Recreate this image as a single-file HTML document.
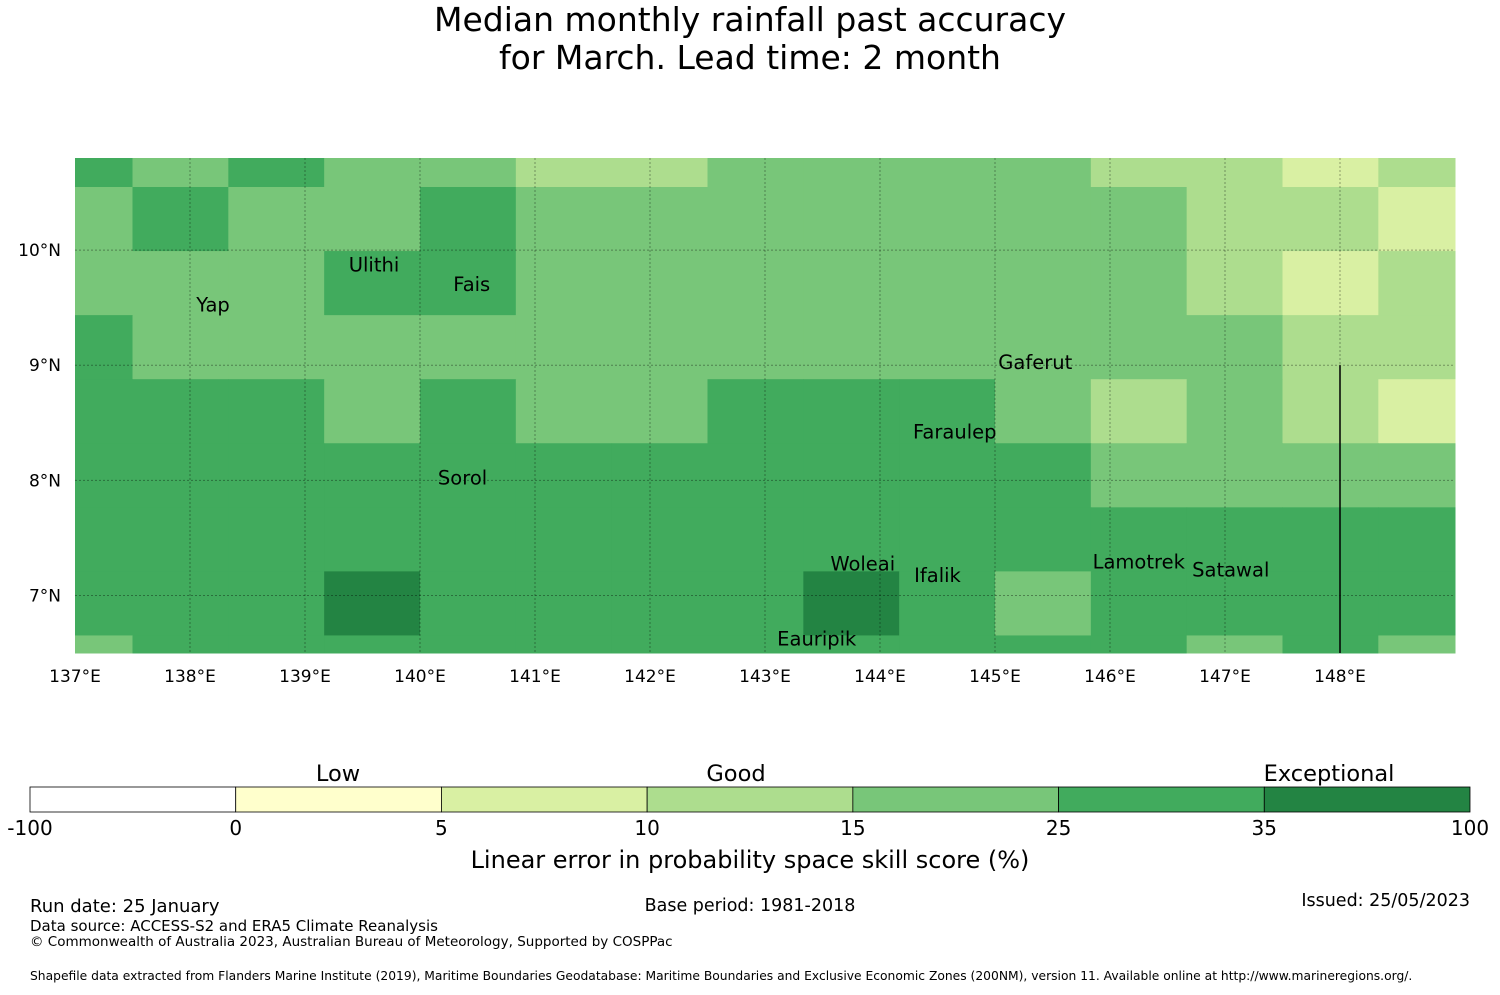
<!DOCTYPE html>
<html><head><meta charset="utf-8"><style>
body{margin:0;background:#fff;font-family:"Liberation Sans","DejaVu Sans",sans-serif}
svg text{font-family:"DejaVu Sans","Liberation Sans",sans-serif}
</style></head><body>
<svg id="chart" width="1500" height="990" xmlns="http://www.w3.org/2000/svg">
<text x="750" y="31" text-anchor="middle" font-size="33">Median monthly rainfall past accuracy</text>
<text x="750" y="69" text-anchor="middle" font-size="33">for March. Lead time: 2 month</text>
<g id="map"></g>
<g id="cbar"></g>
<text x="30" y="912" font-size="18">Run date: 25 January</text>
<text x="30" y="931" font-size="15">Data source: ACCESS-S2 and ERA5 Climate Reanalysis</text>
<text x="30" y="946" font-size="13.5">© Commonwealth of Australia 2023, Australian Bureau of Meteorology, Supported by COSPPac</text>
<text x="750" y="911" text-anchor="middle" font-size="17.5">Base period: 1981-2018</text>
<text x="1470" y="906" text-anchor="end" font-size="17.5">Issued: 25/05/2023</text>
<text x="30" y="980" font-size="12.3">Shapefile data extracted from Flanders Marine Institute (2019), Maritime Boundaries Geodatabase: Maritime Boundaries and Exclusive Economic Zones (200NM), version 11. Available online at http://www.marineregions.org/.</text>
</svg>
<script>
const lonTicks=[137,138,139,140,141,142,143,144,145,146,147,148];
const latTicks=[10,9,8,7];
const colors=["#ffffff","#ffffcc","#d9f0a3","#addd8e","#78c679","#41ab5d","#238443"];
const cbarLabels=["-100","0","5","10","15","25","35","100"];
const catNames=["Low","Good","Exceptional"];
const gridRow0=[5,4,5,4,4,3,3,4,4,4,4,3,3,2,3];
const gridRow1=[4,5,4,4,5,4,4,4,4,4,4,4,3,3,2];
const gridRow2=[4,4,4,5,5,4,4,4,4,4,4,4,3,2,3];
const gridRow3=[5,4,4,4,4,4,4,4,4,4,4,4,4,3,3];
const gridRow4=[5,5,5,4,5,4,4,5,5,5,4,3,4,3,2];
const gridRow5=[5,5,5,5,5,5,5,5,5,5,5,4,4,4,4];
const gridRow6=[5,5,5,5,5,5,5,5,5,5,5,5,5,5,5];
const gridRow7=[5,5,5,6,5,5,5,5,6,5,4,5,5,5,5];
const gridRow8=[4,5,5,5,5,5,5,5,5,5,5,5,4,5,4];
const islands=[["Yap",138.2,9.5],["Ulithi",139.6,9.85],["Fais",140.45,9.68],["Sorol",140.37,8.0],["Gaferut",145.35,9.0],["Faraulep",144.65,8.4],["Woleai",143.85,7.25],["Ifalik",144.5,7.15],["Lamotrek",146.25,7.27],["Satawal",147.05,7.2],["Eauripik",143.45,6.6]];
const grid=[gridRow0,gridRow1,gridRow2,gridRow3,gridRow4,gridRow5,gridRow6,gridRow7,gridRow8];
const NS="http://www.w3.org/2000/svg";
const X0=75,X1=1455,Y0=158,Y1=653,LON0=137,LON1=149,LAT0=10.8,LAT1=6.5;
const xs=l=>X0+(l-LON0)/(LON1-LON0)*(X1-X0);
const ys=l=>Y0+(LAT0-l)/(LAT0-LAT1)*(Y1-Y0);
function mk(t,a,p){const e=document.createElementNS(NS,t);for(const k in a)e.setAttribute(k,a[k]);p.appendChild(e);return e;}
const map=document.getElementById('map');
const lonStep=5/6,latStep=0.5565;
for(let r=0;r<grid.length;r++){
  const la=r===0?LAT0:10.548-(r-1)*latStep, lb=Math.max(LAT1,10.548-r*latStep);
  for(let c=0;c<grid[r].length;c++){
    const lo=c===0?LON0:137.5+(c-1)*lonStep, hi=Math.min(LON1,137.5+c*lonStep);
    const e=mk('rect',{x:xs(lo),y:ys(la),width:xs(hi)-xs(lo)+0.5,height:ys(lb)-ys(la)+0.5,fill:colors[grid[r][c]]},map);
    
    
  }
}
lonTicks.forEach(l=>{
  if(l>LON0){const e=mk('line',{x1:xs(l),x2:xs(l),y1:Y0,y2:Y1,stroke:'#000','stroke-opacity':0.35,'stroke-width':1,'stroke-dasharray':'2,2'},map);
  
  }
  const t=mk('text',{x:xs(l),y:682,'text-anchor':'middle','font-size':17},map);t.textContent=l+'°E';
  
  
});
latTicks.forEach(l=>{
  const e=mk('line',{x1:X0,x2:X1,y1:ys(l),y2:ys(l),stroke:'#000','stroke-opacity':0.35,'stroke-width':1,'stroke-dasharray':'2,2'},map);
  
  
  const t=mk('text',{x:61,y:ys(l)+6,'text-anchor':'end','font-size':17},map);t.textContent=l+'°N';
  
  
});
const b=mk('line',{x1:xs(148),x2:xs(148),y1:ys(9),y2:Y1,stroke:'#000','stroke-width':1.5},map);


islands.forEach(d=>{
  const t=mk('text',{x:xs(d[1]),y:ys(d[2])+4,'text-anchor':'middle','font-size':19.5},map);t.textContent=d[0];
  
  
});
const cb=document.getElementById('cbar');
const CX0=30,CX1=1470,CY=787,CH=25,n=cbarLabels.length-1,w=(CX1-CX0)/n;
for(let i=0;i<n;i++){
  const e=mk('rect',{x:CX0+i*w,y:CY,width:w,height:CH,fill:colors[i],stroke:'#000','stroke-width':0.8},cb);
  
  
}
cbarLabels.forEach((s,i)=>{
  const t=mk('text',{x:CX0+i*w,y:835,'text-anchor':'middle','font-size':20},cb);t.textContent=s;
  
  
});
const catX=[338,736,1329];
catNames.forEach((s,i)=>{
  const t=mk('text',{x:catX[i],y:781,'text-anchor':'middle','font-size':22.5},cb);t.textContent=s;
  
  
});
const tt=mk('text',{x:750,y:868,'text-anchor':'middle','font-size':24},cb);tt.textContent='Linear error in probability space skill score (%)';


</script>
</body></html>
